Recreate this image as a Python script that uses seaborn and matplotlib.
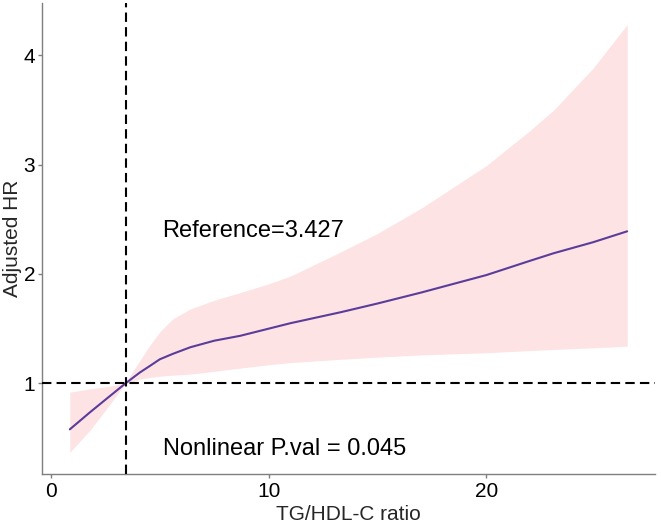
import numpy as np
import pandas as pd
import seaborn as sns
import matplotlib.pyplot as plt

# ==========================================
# DATA
# ==========================================

REF_X = 3.427

tg_hdl = [0.87, 1.79, 2.56, 3.427, 3.79, 4.09, 4.55, 5.0, 5.6, 6.4, 7.5,
          8.7, 10.0, 11.0, 13.3, 15.0, 17.0, 20.0, 22.0, 23.1, 24.9, 26.47]
hr = [0.58, 0.735, 0.86, 1.0, 1.055, 1.10, 1.16, 1.22, 1.27, 1.33, 1.39,
      1.435, 1.50, 1.55, 1.65, 1.73, 1.83, 1.99, 2.12, 2.19, 2.29, 2.39]
hr_upper = [0.92, 0.95, 0.97, 1.0, 1.12, 1.21, 1.35, 1.47, 1.59, 1.68, 1.76,
            1.83, 1.91, 1.98, 2.20, 2.37, 2.60, 2.99, 3.31, 3.50, 3.88, 4.28]
hr_lower = [0.37, 0.57, 0.77, 1.0, 1.02, 1.04, 1.055, 1.065, 1.075, 1.085, 1.11,
            1.14, 1.17, 1.19, 1.22, 1.24, 1.26, 1.28, 1.30, 1.31, 1.325, 1.34]

ref_label = "Reference=3.427"
p_label = "Nonlinear P.val = 0.045"

df = pd.DataFrame({"x": tg_hdl, "hr": hr, "lo": hr_lower, "hi": hr_upper})

# ==========================================
# STYLE
# ==========================================

sns.set_style("ticks")
plt.rcParams['font.family'] = ['Liberation Sans', 'DejaVu Sans']

LINE_COL = "#5B3C9B"
BAND_COL = "#FDE3E4"
AXIS_COL = "#7F7F7F"

fig = plt.figure(figsize=(6.61, 5.24), dpi=100)
ax = fig.add_axes([0.0635, 0.096, 0.9275, 0.898])

# ==========================================
# PLOT
# ==========================================

ax.fill_between(df["x"], df["lo"], df["hi"], color=BAND_COL, lw=0, zorder=1)
sns.lineplot(data=df, x="x", y="hr", color=LINE_COL, lw=1.5, ax=ax, zorder=3)

ax.axhline(1, color="black", lw=1.5, ls=(0, (4.5, 2.5)), zorder=4)
ax.axvline(REF_X, color="black", lw=1.5, ls=(0, (4.5, 2.5)), zorder=4)

# ggplot-like 5% expansion
xmin, xmax = df["x"].min(), df["x"].max()
ymin, ymax = df["lo"].min(), df["hi"].max()
xpad = (xmax - xmin) * 0.05
ypad = (ymax - ymin) * 0.05
ax.set_xlim(xmin - xpad, xmax + xpad)
ax.set_ylim(ymin - ypad, ymax + ypad)

ax.set_xticks([0, 10, 20])
ax.set_yticks([1, 2, 3, 4])

ax.text(5.13, 2.39, ref_label, fontsize=17, va="center", ha="left", color="black")
ax.text(5.13, 0.40, p_label, fontsize=17, va="center", ha="left", color="black")

ax.set_xlabel("TG/HDL-C ratio", fontsize=15, labelpad=3)
ax.set_ylabel("Adjusted HR", fontsize=15, labelpad=1)

sns.despine(ax=ax)
for side in ["left", "bottom"]:
    ax.spines[side].set_color(AXIS_COL)
    ax.spines[side].set_linewidth(1.0)

ax.tick_params(axis="both", colors=AXIS_COL, labelcolor="black",
               labelsize=15, length=3, width=1.0)
ax.tick_params(axis="x", pad=3)
ax.tick_params(axis="y", pad=2)

plt.savefig("out.png", dpi=100)
plt.close()
